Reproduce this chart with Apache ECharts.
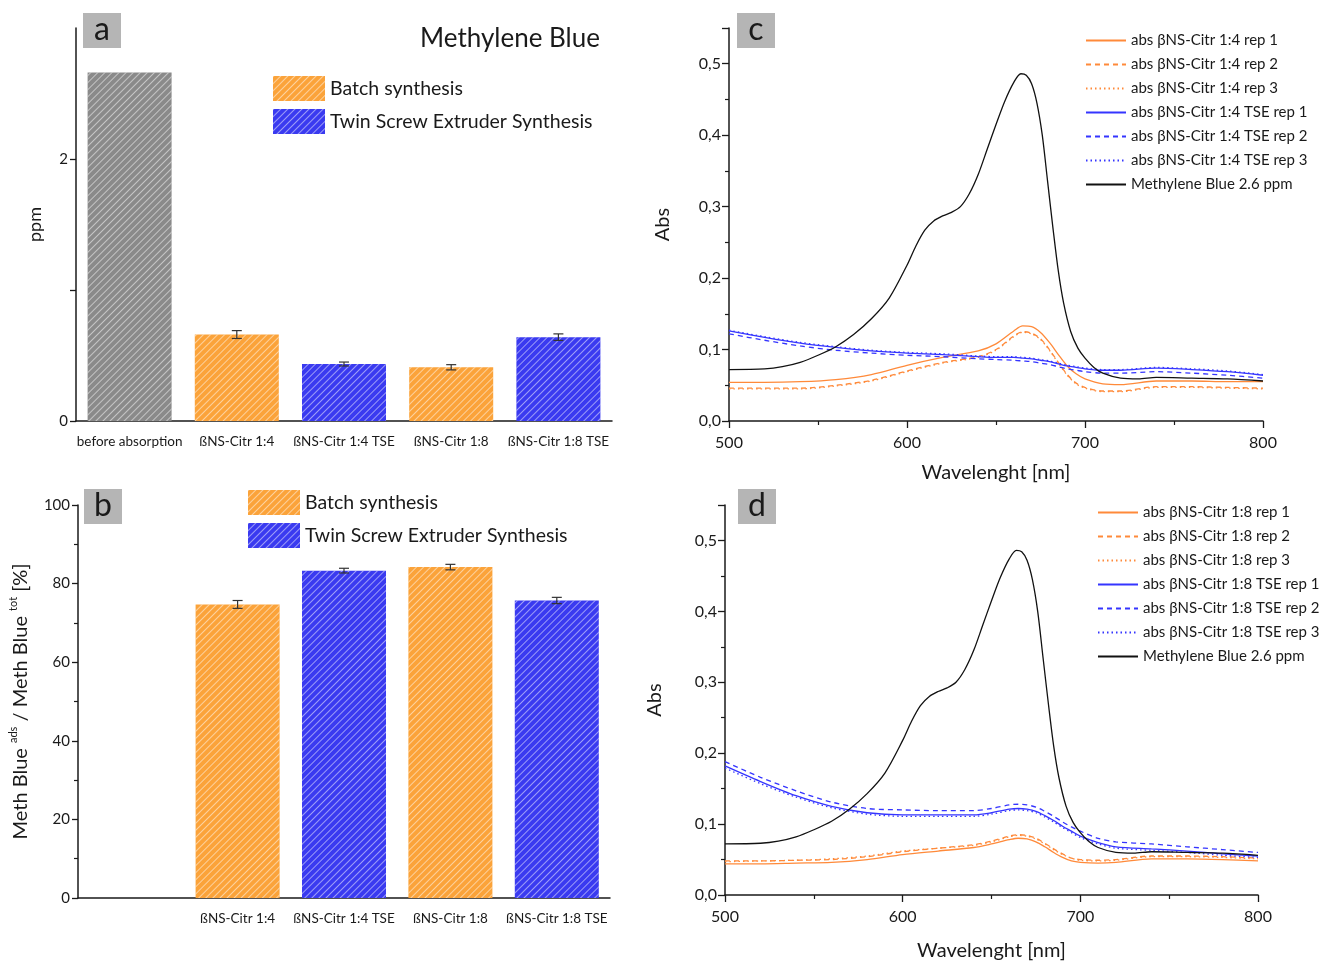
<!DOCTYPE html>
<html>
<head>
<meta charset="utf-8">
<title>Methylene Blue</title>
<script src="https://cdn.jsdelivr.net/npm/echarts@6/dist/echarts.min.js"></script>
<style>
	html, body { margin: 0; padding: 0; background: #fff; }
	#main { width: 1326px; height: 962px; }
</style>
</head>
<body>
<div id="main"></div>
<script>
// --- panel a / b : bar data ---
var catA = ['before absorption', 'ßNS-Citr 1:4', 'ßNS-Citr 1:4 TSE', 'ßNS-Citr 1:8', 'ßNS-Citr 1:8 TSE'];
var ppmBefore = [2.66, '-', '-', '-', '-'];
var ppmBatch = ['-', 0.66, '-', 0.41, '-'];
var ppmTse = ['-', '-', 0.435, '-', 0.64];
var ppmErr = [0, 0.03, 0.015, 0.02, 0.025];

var catB = ['', 'ßNS-Citr 1:4', 'ßNS-Citr 1:4 TSE', 'ßNS-Citr 1:8', 'ßNS-Citr 1:8 TSE'];
var adsBatch = ['-', 74.7, '-', 84.2, '-'];
var adsTse = ['-', '-', 83.3, '-', 75.7];
var adsErr = [0, 1.0, 0.6, 0.7, 0.8];

// --- panel c / d : spectra ---
var wlMB = [500, 520, 530, 540, 550, 560, 570, 580, 590, 600, 605, 610, 615, 620, 625, 630, 635, 640, 645, 650, 655, 660, 664, 667, 670, 673, 676, 679, 682, 685, 688, 692, 696, 700, 705, 710, 720, 730, 740, 760, 780, 800];
var absMB = [0.072, 0.073, 0.076, 0.082, 0.092, 0.104, 0.121, 0.143, 0.172, 0.218, 0.245, 0.267, 0.28, 0.287, 0.292, 0.3, 0.318, 0.345, 0.38, 0.415, 0.448, 0.474, 0.486, 0.484, 0.472, 0.445, 0.4, 0.335, 0.27, 0.21, 0.165, 0.125, 0.102, 0.088, 0.075, 0.067, 0.06, 0.059, 0.061, 0.06, 0.059, 0.056];

var wl = [500, 520, 540, 560, 580, 600, 620, 640, 650, 660, 665, 670, 675, 680, 685, 690, 695, 700, 710, 720, 740, 760, 780, 800];
var c14rep1 = [0.054, 0.054, 0.055, 0.058, 0.065, 0.078, 0.089, 0.098, 0.108, 0.126, 0.133, 0.132, 0.124, 0.11, 0.093, 0.077, 0.066, 0.059, 0.052, 0.051, 0.056, 0.056, 0.055, 0.055];
var c14rep2 = [0.046, 0.046, 0.046, 0.05, 0.057, 0.07, 0.082, 0.09, 0.1, 0.119, 0.125, 0.123, 0.115, 0.1, 0.082, 0.065, 0.053, 0.047, 0.042, 0.042, 0.048, 0.048, 0.047, 0.046];
var c14rep3 = [0.045, 0.045, 0.045, 0.049, 0.056, 0.069, 0.081, 0.089, 0.099, 0.118, 0.124, 0.122, 0.114, 0.099, 0.081, 0.064, 0.052, 0.046, 0.041, 0.041, 0.047, 0.047, 0.046, 0.045];
var c14tse1 = [0.126, 0.117, 0.109, 0.103, 0.098, 0.095, 0.093, 0.09, 0.089, 0.089, 0.088, 0.087, 0.085, 0.083, 0.08, 0.077, 0.075, 0.073, 0.071, 0.071, 0.074, 0.072, 0.069, 0.064];
var c14tse2 = [0.122, 0.113, 0.105, 0.099, 0.095, 0.092, 0.09, 0.087, 0.086, 0.085, 0.084, 0.083, 0.081, 0.079, 0.076, 0.073, 0.071, 0.069, 0.067, 0.067, 0.069, 0.067, 0.064, 0.06];
var c14tse3 = [0.127, 0.118, 0.11, 0.104, 0.099, 0.096, 0.094, 0.091, 0.09, 0.09, 0.089, 0.088, 0.086, 0.084, 0.081, 0.078, 0.076, 0.074, 0.072, 0.072, 0.075, 0.073, 0.07, 0.065];

var c18rep1 = [0.044, 0.044, 0.045, 0.046, 0.05, 0.057, 0.062, 0.067, 0.072, 0.078, 0.08, 0.079, 0.075, 0.068, 0.06, 0.053, 0.048, 0.046, 0.045, 0.046, 0.051, 0.051, 0.05, 0.048];
var c18rep2 = [0.048, 0.048, 0.049, 0.05, 0.054, 0.061, 0.066, 0.071, 0.076, 0.083, 0.085, 0.084, 0.08, 0.073, 0.065, 0.058, 0.052, 0.05, 0.049, 0.05, 0.055, 0.055, 0.054, 0.052];
var c18rep3 = [0.047, 0.048, 0.049, 0.051, 0.055, 0.062, 0.066, 0.07, 0.075, 0.082, 0.084, 0.083, 0.079, 0.072, 0.064, 0.057, 0.052, 0.049, 0.048, 0.049, 0.054, 0.054, 0.053, 0.051];
var c18tse1 = [0.182, 0.16, 0.14, 0.125, 0.116, 0.113, 0.113, 0.113, 0.116, 0.121, 0.122, 0.121, 0.118, 0.112, 0.105, 0.097, 0.09, 0.083, 0.074, 0.068, 0.065, 0.062, 0.058, 0.055];
var c18tse2 = [0.188, 0.166, 0.147, 0.131, 0.122, 0.12, 0.119, 0.119, 0.122, 0.127, 0.128, 0.127, 0.124, 0.118, 0.111, 0.103, 0.096, 0.09, 0.08, 0.075, 0.072, 0.068, 0.064, 0.06];
var c18tse3 = [0.179, 0.157, 0.138, 0.123, 0.114, 0.111, 0.111, 0.111, 0.114, 0.119, 0.12, 0.119, 0.116, 0.11, 0.103, 0.095, 0.088, 0.081, 0.072, 0.066, 0.063, 0.06, 0.056, 0.053];

var FONT = 'Lato';
var INK = '#1a1a1a';
var ORANGE = '#fba33a', BLUE = '#3a3af0', GREY = '#8a8a8a';
var LORANGE = '#ff8a3a', LBLUE = '#3535ff';

function hatch() {
	return {
		symbol: 'rect', symbolSize: 1,
		color: 'rgba(255,255,255,0.5)',
		dashArrayX: [1, 0], dashArrayY: [1, 3.5],
		rotation: -Math.PI / 4
	};
}

function zip(xs, ys) {
	return xs.map(function(x, i) { return [x, ys[i]]; });
}

function comma(v) {
	return v.toFixed(1).replace('.', ',');
}

// error bars drawn through the axis scale
function errSeries(xi, yi, vals, errs) {
	var d = [];
	vals.forEach(function(v, i) {
		if (v !== '-' && errs[i] > 0) d.push([i, v, errs[i]]);
	});
	return {
		type: 'custom', xAxisIndex: xi, yAxisIndex: yi, z: 10, silent: true,
		data: d,
		renderItem: function(params, api) {
			var x = api.value(0), v = api.value(1), e = api.value(2);
			var hi = api.coord([x, v + e]), lo = api.coord([x, v - e]);
			var w = 5;
			var st = { stroke: '#333', lineWidth: 1.2 };
			return {
				type: 'group', children: [
					{ type: 'line', shape: { x1: hi[0], y1: hi[1], x2: lo[0], y2: lo[1] }, style: st },
					{ type: 'line', shape: { x1: hi[0] - w, y1: hi[1], x2: hi[0] + w, y2: hi[1] }, style: st },
					{ type: 'line', shape: { x1: lo[0] - w, y1: lo[1], x2: lo[0] + w, y2: lo[1] }, style: st }
				]
			};
		}
	};
}

function barSeries(name, xi, yi, data, color) {
	return {
		name: name, type: 'bar', xAxisIndex: xi, yAxisIndex: yi,
		data: data, barWidth: 84, barGap: '-100%',
		itemStyle: { color: color, decal: hatch() }
	};
}

function lineSeries(name, xi, yi, xs, ys, color, dash) {
	return {
		name: name, type: 'line', xAxisIndex: xi, yAxisIndex: yi,
		data: zip(xs, ys), showSymbol: false, symbol: 'none', smooth: 0.3,
		lineStyle: { color: color, width: 1.3, type: dash },
		itemStyle: { color: color }
	};
}

var axLine = { lineStyle: { color: INK, width: 1.5 } };
var axTick = { length: 6, lineStyle: { color: INK, width: 1.3 } };

function catAxis(grid, cats, size) {
	return {
		type: 'category', gridIndex: grid, data: cats,
		axisLine: axLine, axisTick: axTick,
		axisLabel: { color: INK, fontFamily: FONT, fontSize: size, margin: 14, interval: 0 }
	};
}
// second category axis that adds the centre ticks
function centreTicks(grid, cats) {
	return {
		type: 'category', gridIndex: grid, data: cats, position: 'bottom',
		axisLine: { show: false }, axisLabel: { show: false },
		axisTick: { alignWithLabel: true, length: 6, lineStyle: { color: INK, width: 1.3 } }
	};
}

function absAxis(grid, gap) {
	return {
		type: 'value', gridIndex: grid, min: 0, max: 0.55, interval: 0.1,
		name: 'Abs', nameLocation: 'middle', nameGap: gap,
		nameTextStyle: { fontFamily: FONT, fontSize: 20, color: INK },
		axisLine: { show: true, lineStyle: { color: INK, width: 1.5 } },
		axisTick: { show: true, length: 7, lineStyle: { color: INK, width: 1.3 } },
		minorTick: { show: true, splitNumber: 2, length: 4, lineStyle: { color: INK, width: 1.2 } },
		splitLine: { show: false },
		axisLabel: { color: INK, fontFamily: FONT, fontSize: 16, showMaxLabel: false, formatter: comma }
	};
}
function wlAxis(grid, gap) {
	return {
		type: 'value', gridIndex: grid, min: 500, max: 800, interval: 100,
		name: 'Wavelenght [nm]', nameLocation: 'middle', nameGap: gap,
		nameTextStyle: { fontFamily: FONT, fontSize: 20, color: INK },
		axisLine: axLine,
		axisTick: { show: true, length: 7, lineStyle: { color: INK, width: 1.3 } },
		minorTick: { show: true, splitNumber: 2, length: 4, lineStyle: { color: INK, width: 1.2 } },
		splitLine: { show: false },
		axisLabel: { color: INK, fontFamily: FONT, fontSize: 16, margin: 14 }
	};
}

function spectraLegend(left, top, names) {
	return {
		left: left, top: top, orient: 'vertical', data: names, padding: 0,
		itemWidth: 40, itemHeight: 10, itemGap: 9,
		itemStyle: { opacity: 0 },
		textStyle: { fontFamily: FONT, fontSize: 15, color: INK }
	};
}

function barLegend(left, top) {
	return {
		left: left, top: top, orient: 'vertical', padding: 0, icon: 'rect',
		itemWidth: 52, itemHeight: 25, itemGap: 8,
		data: ['Batch synthesis', 'Twin Screw Extruder Synthesis'],
		textStyle: { fontFamily: FONT, fontSize: 19.5, color: INK }
	};
}

function panelTag(x, y, letter) {
	return {
		type: 'group', left: x, top: y, children: [
			{ type: 'rect', shape: { x: 0, y: 0, width: 38, height: 35 }, style: { fill: '#b5b5b5' } },
			{ type: 'text', x: 19, y: 17, style: { text: letter, font: '32px ' + FONT, fill: INK, align: 'center', verticalAlign: 'middle' } }
		]
	};
}

var n14 = ['abs βNS-Citr 1:4 rep 1', 'abs βNS-Citr 1:4 rep 2', 'abs βNS-Citr 1:4 rep 3',
	'abs βNS-Citr 1:4 TSE rep 1', 'abs βNS-Citr 1:4 TSE rep 2', 'abs βNS-Citr 1:4 TSE rep 3', 'Methylene Blue 2.6 ppm'];
var n18 = ['abs βNS-Citr 1:8 rep 1', 'abs βNS-Citr 1:8 rep 2', 'abs βNS-Citr 1:8 rep 3',
	'abs βNS-Citr 1:8 TSE rep 1', 'abs βNS-Citr 1:8 TSE rep 2', 'abs βNS-Citr 1:8 TSE rep 3', 'Methylene Blue 2.6 ppm'];

var myChart = echarts.init(document.getElementById('main'));
var option = {
	backgroundColor: '#fff',
	animation: false,
	grid: [
		{ left: 76, top: 28, width: 536, height: 393 },
		{ left: 78, top: 505, width: 532, height: 393 },
		{ left: 729, top: 28, width: 534, height: 393 },
		{ left: 725, top: 505, width: 533, height: 392 }
	],
	xAxis: [
		catAxis(0, catA, 13.5),
		catAxis(1, catB, 13.5),
		wlAxis(2, 42),
		wlAxis(3, 46),
		centreTicks(0, catA),
		centreTicks(1, catB)
	],
	yAxis: [
		{
			type: 'value', gridIndex: 0, min: 0, max: 3,
			name: 'ppm', nameLocation: 'middle', nameGap: 32,
			nameTextStyle: { fontFamily: FONT, fontSize: 18, color: INK },
			axisLine: { show: true, lineStyle: { color: INK, width: 1.5 } },
			axisTick: { show: true, customValues: [0, 1, 2], length: 6, lineStyle: { color: INK, width: 1.3 } },
			splitLine: { show: false },
			axisLabel: { customValues: [0, 2], color: INK, fontFamily: FONT, fontSize: 15 }
		},
		{
			type: 'value', gridIndex: 1, min: 0, max: 100, interval: 20,
			name: 'Meth Blue {sup|ads} / Meth Blue {sup|tot} [%]', nameLocation: 'middle', nameGap: 44,
			nameTextStyle: {
				fontFamily: FONT, fontSize: 20, color: INK, lineHeight: 26,
				rich: {
					sup: { fontFamily: FONT, fontSize: 11, color: INK, verticalAlign: 'top', lineHeight: 26 }
				}
			},
			axisLine: { show: true, lineStyle: { color: INK, width: 1.5 } },
			axisTick: { show: true, length: 6, lineStyle: { color: INK, width: 1.3 } },
			minorTick: { show: true, splitNumber: 2, length: 4, lineStyle: { color: INK, width: 1.2 } },
			splitLine: { show: false },
			axisLabel: { color: INK, fontFamily: FONT, fontSize: 15 }
		},
		absAxis(2, 56),
		absAxis(3, 60)
	],
	legend: [
		barLegend(273, 76),
		barLegend(248, 490),
		spectraLegend(1085, 33, n14),
		spectraLegend(1097, 505, n18)
	],
	graphic: [
		panelTag(83, 13, 'a'),
		panelTag(84, 489, 'b'),
		panelTag(737, 13, 'c'),
		panelTag(738, 489, 'd'),
		{ type: 'text', left: 420, top: 26, style: { text: 'Methylene Blue', font: '26px ' + FONT, fill: INK } }
	],
	series: [
		barSeries('before absorption', 0, 0, ppmBefore, GREY),
		barSeries('Batch synthesis', 0, 0, ppmBatch, ORANGE),
		barSeries('Twin Screw Extruder Synthesis', 0, 0, ppmTse, BLUE),
		errSeries(0, 0, [2.66, 0.66, 0.435, 0.41, 0.64], ppmErr),
		barSeries('Batch synthesis', 1, 1, adsBatch, ORANGE),
		barSeries('Twin Screw Extruder Synthesis', 1, 1, adsTse, BLUE),
		errSeries(1, 1, [0, 74.7, 83.3, 84.2, 75.7], adsErr),

		lineSeries(n14[0], 2, 2, wl, c14rep1, LORANGE, 'solid'),
		lineSeries(n14[1], 2, 2, wl, c14rep2, LORANGE, [5, 4]),
		lineSeries(n14[2], 2, 2, wl, c14rep3, LORANGE, [1.5, 3]),
		lineSeries(n14[3], 2, 2, wl, c14tse1, LBLUE, 'solid'),
		lineSeries(n14[4], 2, 2, wl, c14tse2, LBLUE, [5, 4]),
		lineSeries(n14[5], 2, 2, wl, c14tse3, LBLUE, [1.5, 3]),
		lineSeries(n14[6], 2, 2, wlMB, absMB, '#111', 'solid'),

		lineSeries(n18[0], 3, 3, wl, c18rep1, LORANGE, 'solid'),
		lineSeries(n18[1], 3, 3, wl, c18rep2, LORANGE, [5, 4]),
		lineSeries(n18[2], 3, 3, wl, c18rep3, LORANGE, [1.5, 3]),
		lineSeries(n18[3], 3, 3, wl, c18tse1, LBLUE, 'solid'),
		lineSeries(n18[4], 3, 3, wl, c18tse2, LBLUE, [5, 4]),
		lineSeries(n18[5], 3, 3, wl, c18tse3, LBLUE, [1.5, 3]),
		lineSeries(n18[6], 3, 3, wlMB, absMB, '#111', 'solid')
	]
};
myChart.setOption(option);
</script>
</body>
</html>
